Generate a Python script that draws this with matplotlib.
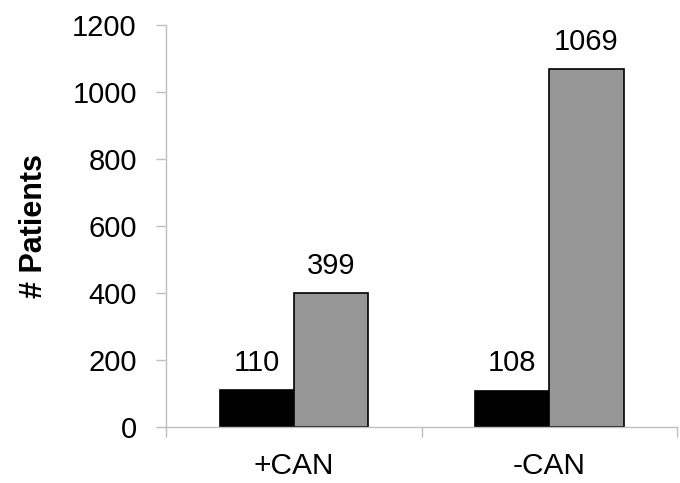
import matplotlib
matplotlib.use("Agg")
import matplotlib.pyplot as plt
import numpy as np

categories = ["+CAN", "-CAN"]
series_black = [110, 108]
series_gray = [399, 1069]
yticks = [0, 200, 400, 600, 800, 1000, 1200]

plt.rcParams['font.family'] = ['Liberation Sans', 'DejaVu Sans']

fig = plt.figure(figsize=(6.8, 4.83), dpi=100)
ax = fig.add_axes([0.244, 0.116, 0.752, 0.832])

x = np.arange(len(categories))
w = 0.29
b1 = ax.bar(x - w/2, series_black, w, color='black', edgecolor='black', linewidth=1.2)
b2 = ax.bar(x + w/2, series_gray, w, color='#969696', edgecolor='black', linewidth=1.2)

for bars, vals in ((b1, series_black), (b2, series_gray)):
    for r, v in zip(bars, vals):
        ax.annotate(str(v), (r.get_x() + r.get_width()/2, v), xytext=(0, 14),
                    textcoords='offset points', ha='center', va='baseline', fontsize=21)

ax.set_xlim(-0.5, 1.5)
ax.set_ylim(0, 1200)
ax.set_yticks(yticks)
ax.set_yticklabels([str(t) for t in yticks], fontsize=21)
ax.set_xticks(x)
ax.set_xticklabels(categories, fontsize=21.5)
ax.set_xticks([-0.5, 0.5, 1.5], minor=True)
ax.tick_params(axis='x', which='major', length=0, pad=18)
ax.tick_params(axis='x', which='minor', length=7, color='#bfbfbf', width=1)
ax.tick_params(axis='y', length=7, color='#bfbfbf', width=1, pad=14)

for s in ('top', 'right'):
    ax.spines[s].set_visible(False)
for s in ('left', 'bottom'):
    ax.spines[s].set_color('#bfbfbf')
    ax.spines[s].set_linewidth(1)

ax.set_ylabel('# Patients', fontsize=22, fontweight='bold', labelpad=17)

fig.savefig('out.png', dpi=100)
